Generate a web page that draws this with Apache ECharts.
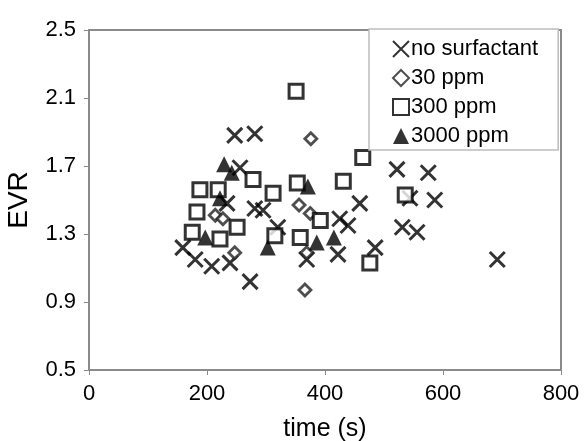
<!DOCTYPE html>
<html>
<head>
<meta charset="utf-8">
<script src="https://cdn.jsdelivr.net/npm/echarts@6/dist/echarts.min.js"></script>
<style>
  html, body { margin: 0; padding: 0; background: #fff; }
  #chart { width: 586px; height: 441px; }
</style>
</head>
<body>
<div id="chart"></div>
<script>
// values
const seriesNames = ["no surfactant", "30 ppm", "300 ppm", "3000 ppm"];
const xTicks = [0, 200, 400, 600, 800];
const yTicks = [0.5, 0.9, 1.3, 1.7, 2.1, 2.5];

const noSurfTime = [247, 281, 256, 234, 281, 295, 320, 159, 180, 208, 239, 273, 369, 422, 425, 439, 459, 485, 522, 575, 544, 586, 531, 556, 692];
const noSurfEvr = [1.88, 1.89, 1.69, 1.48, 1.45, 1.44, 1.34, 1.22, 1.15, 1.11, 1.13, 1.02, 1.15, 1.18, 1.39, 1.35, 1.48, 1.22, 1.68, 1.66, 1.51, 1.50, 1.34, 1.31, 1.15];

const ppm30Time = [376, 356, 375, 214, 227, 247, 369, 366];
const ppm30Evr = [1.86, 1.47, 1.42, 1.41, 1.39, 1.19, 1.19, 0.97];

const ppm300Time = [188, 219, 183, 175, 222, 251, 278, 312, 315, 353, 358, 392, 431, 464, 536, 476, 351];
const ppm300Evr = [1.56, 1.56, 1.43, 1.31, 1.27, 1.34, 1.62, 1.54, 1.29, 1.60, 1.28, 1.38, 1.61, 1.75, 1.53, 1.13, 2.14];

const ppm3000Time = [229, 242, 222, 197, 303, 371, 386, 415];
const ppm3000Evr = [1.71, 1.66, 1.51, 1.28, 1.22, 1.58, 1.25, 1.28];

const FONT = "Liberation Sans";
const AXIS_GRAY = "#8a8a8a";
const CROSS = "path://M0,0L10,10M10,0L0,10";

function pairs(xs, ys) {
    return xs.map((x, i) => [x, ys[i]]);
}

const chart = echarts.init(document.getElementById("chart"), null, { renderer: "canvas" });

const option = {
    animation: false,
    textStyle: { fontFamily: FONT },
    grid: {
        left: 89,
        right: 25,
        top: 30,
        bottom: 71,
        containLabel: false,
        outerBoundsMode: "none",
        show: true,
        borderColor: AXIS_GRAY,
        borderWidth: 2,
    },
    legend: {
        orient: "vertical",
        left: 369,
        top: 29,
        padding: [9, 20, 3, 23],
        itemWidth: 16,
        itemHeight: 16,
        itemGap: 7,
        backgroundColor: "#fff",
        borderColor: "#bdbdbd",
        borderWidth: 1.5,
        textStyle: { fontFamily: FONT, fontSize: 22, color: "#000", padding: [0, 0, 0, -3] },
        data: seriesNames,
    },
    xAxis: {
        type: "value",
        min: xTicks[0],
        max: xTicks[xTicks.length - 1],
        interval: 200,
        name: "time (s)",
        nameLocation: "middle",
        nameGap: 47,
        nameTextStyle: { fontFamily: FONT, fontSize: 25, color: "#000" },
        axisLine: { show: true, lineStyle: { color: AXIS_GRAY, width: 2 } },
        axisTick: { show: true, length: 5, lineStyle: { color: AXIS_GRAY } },
        axisLabel: { fontFamily: FONT, fontSize: 22, color: "#000", margin: 13 },
        splitLine: { show: false },
    },
    yAxis: {
        type: "value",
        min: yTicks[0],
        max: yTicks[yTicks.length - 1],
        interval: 0.4,
        name: "EVR",
        nameLocation: "middle",
        nameGap: 56,
        nameTextStyle: { fontFamily: FONT, fontSize: 28, color: "#000" },
        axisLine: { show: true, lineStyle: { color: AXIS_GRAY, width: 2 } },
        axisTick: { show: true, length: 5, lineStyle: { color: AXIS_GRAY } },
        axisLabel: {
            fontFamily: FONT,
            fontSize: 22,
            color: "#000",
            margin: 13,
            formatter: (v) => v.toFixed(1),
        },
        splitLine: { show: false },
    },
    series: [
        {
            name: seriesNames[0],
            type: "scatter",
            symbol: CROSS,
            symbolSize: 15,
            itemStyle: { color: "rgba(0,0,0,0)", borderColor: "#000", borderWidth: 3 },
            data: pairs(noSurfTime, noSurfEvr),
        },
        {
            name: seriesNames[1],
            type: "scatter",
            symbol: "diamond",
            symbolSize: 12,
            itemStyle: { color: "#fff", borderColor: "#222", borderWidth: 2.8 },
            data: pairs(ppm30Time, ppm30Evr),
        },
        {
            name: seriesNames[2],
            type: "scatter",
            symbol: "rect",
            symbolSize: 14,
            itemStyle: { color: "#fff", borderColor: "#000", borderWidth: 3 },
            data: pairs(ppm300Time, ppm300Evr),
        },
        {
            name: seriesNames[3],
            type: "scatter",
            symbol: "triangle",
            symbolSize: 16,
            itemStyle: { color: "#000", borderWidth: 0 },
            data: pairs(ppm3000Time, ppm3000Evr),
        },
    ],
};

chart.setOption(option);
</script>
</body>
</html>
